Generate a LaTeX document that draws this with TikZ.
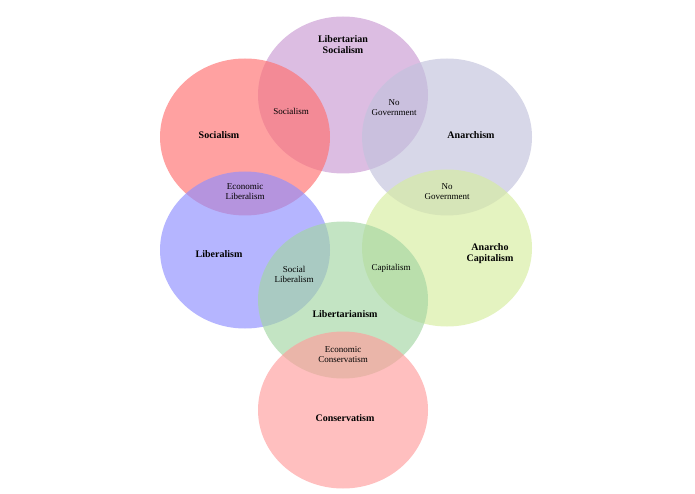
\documentclass[tikz,border=0pt]{standalone}
\usepackage{fontspec}
\setmainfont{Liberation Serif}
\usetikzlibrary{positioning,shapes.geometric}
\definecolor{libsoccol}{HTML}{C99AD3}
\definecolor{soccol}{HTML}{FF6F6F}
\definecolor{anacol}{HTML}{C2C2DC}
\definecolor{libcol}{HTML}{8E8EFF}
\definecolor{ancapcol}{HTML}{D6EC9E}
\definecolor{ltcol}{HTML}{A3D6A3}
\definecolor{concol}{HTML}{FF9C9C}
\tikzset{
  blob/.style={
    ellipse, draw=none, fill opacity=0.65,
    minimum width=170pt, minimum height=157pt
  },
  big label/.style={
    font=\fontsize{10}{11}\selectfont\bfseries, align=center
  },
  small label/.style={
    font=\fontsize{9}{10}\selectfont, align=center
  }
}
\begin{document}
\begin{tikzpicture}[x=1pt,y=-1pt]
\useasboundingbox (0,0) rectangle (695,494);
\node[blob, fill=libsoccol] (libsoc) at (343,95) {};
\node[blob, fill=soccol] (soc) at (245,137) {};
\node[blob, fill=anacol] (ana) at (447,137) {};
\node[blob, fill=libcol] (lib) at (245,250) {};
\node[blob, fill=ancapcol] (ancap) at (447,248) {};
\node[blob, fill=ltcol] (lt) at (343,300) {};
\node[blob, fill=concol] (con) at (343,410) {};
% names
\node[big label] (libsoct) at (343,45) {Libertarian\\Socialism};
\node[big label] (soct) at (219,135) {Socialism};
\node[big label] (anat) at (471,135) {Anarchism};
\node[big label] (libt) at (219,254) {Liberalism};
\node[big label] (ancapt) at (490,254) {Anarcho\\Capitalism};
\node[big label] (ltt) at (345,314) {Libertarianism};
\node[big label] (cont) at (345,418) {Conservatism};
% overlaps
\node[small label] (sococ) at (291,111) {Socialism};
\node[small label] (nogov1) at (394,108) {No\\Government};
\node[small label] (econlib) at (245,192) {Economic\\Liberalism};
\node[small label] (nogov2) at (447,192) {No\\Government};
\node[small label] (soclib) at (294,274) {Social\\Liberalism};
\node[small label] (capt) at (391,268) {Capitalism};
\node[small label] (econcon) at (343,355) {Economic\\Conservatism};
\end{tikzpicture}
\end{document}
